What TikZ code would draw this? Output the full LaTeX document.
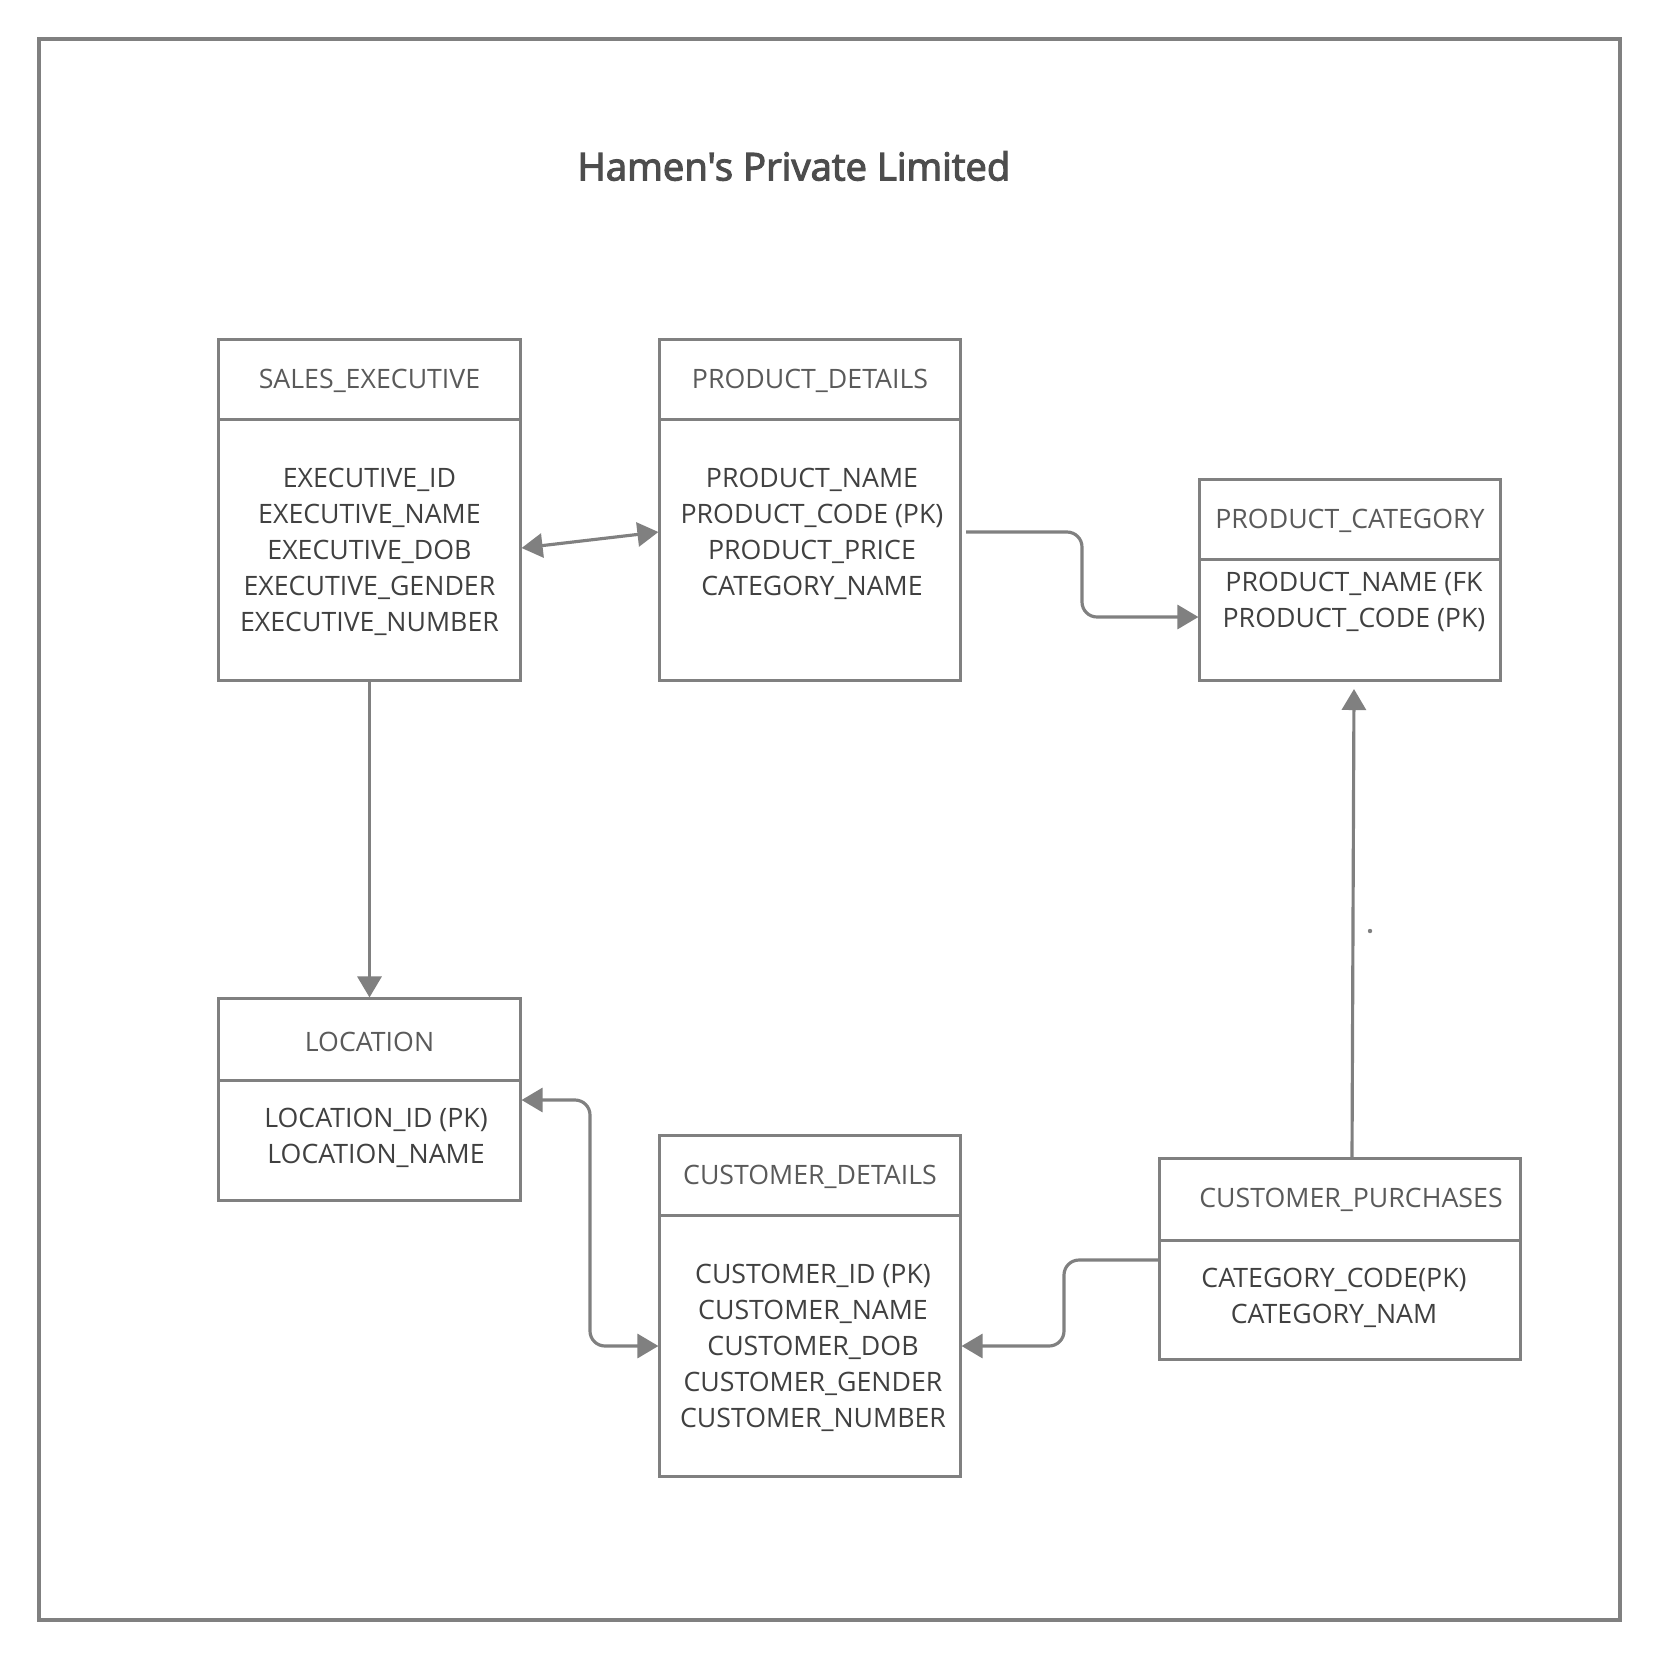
\documentclass[tikz,border=0pt]{standalone}
\usepackage{fontspec}
\setmainfont{Open Sans}
\newfontfamily\titlefont[FakeBold=3]{Open Sans}
\usetikzlibrary{arrows.meta}
\definecolor{linec}{HTML}{808080}
\definecolor{hdrc}{HTML}{5A5A5A}
\definecolor{bodyc}{HTML}{404040}
\definecolor{titlec}{HTML}{4D4D4D}
\tikzset{
  tbl/.style={draw=linec, line width=0.85pt, inner sep=0pt},
  sepline/.style={draw=linec, line width=0.85pt},
  hdr/.style={text=hdrc, font=\fontsize{7.6}{10.2}\selectfont, inner sep=0pt},
  body/.style={text=bodyc, font=\fontsize{7.6}{10.2}\selectfont, align=center, inner sep=0pt},
  conn/.style={draw=linec, line width=0.9pt, rounded corners=0.15cm},
  tip/.tip={Triangle[length=0.21cm,width=0.24cm]}
}
\begin{document}
\begin{tikzpicture}[x=0.01cm,y=-0.01cm]
\useasboundingbox (0,0) rectangle (1660,1660);
\draw[draw=linec, line width=0.9pt] (39,39) rectangle (1620,1620);
\node[text=titlec, font=\titlefont\fontsize{10.9}{13}\selectfont] (title) at (794,166) {Hamen\symbol{39}s Private Limited};

% tables
\node[tbl, minimum width=3.01cm, minimum height=3.40cm] (se) at (369.5,510) {};
\node[tbl, minimum width=3.00cm, minimum height=3.40cm] (pd) at (810,510) {};
\node[tbl, minimum width=3.00cm, minimum height=2.00cm] (pc) at (1350,580) {};
\node[tbl, minimum width=3.01cm, minimum height=2.01cm] (loc) at (369.5,1099.5) {};
\node[tbl, minimum width=3.00cm, minimum height=3.40cm] (cd) at (810,1306) {};
\node[tbl, minimum width=3.60cm, minimum height=2.00cm] (cp) at (1340,1259) {};

\draw[sepline] (se.west |- 0,419) -- (se.east |- 0,419);
\draw[sepline] (pd.west |- 0,419) -- (pd.east |- 0,419);
\draw[sepline] (pc.west |- 0,559) -- (pc.east |- 0,559);
\draw[sepline] (loc.west |- 0,1080) -- (loc.east |- 0,1080);
\draw[sepline] (cd.west |- 0,1215) -- (cd.east |- 0,1215);
\draw[sepline] (cp.west |- 0,1240) -- (cp.east |- 0,1240);

\node[hdr] (seh) at (369.5,381) {SALES\_EXECUTIVE};
\node[body] (seb) at (369.5,552) {EXECUTIVE\_ID\\EXECUTIVE\_NAME\\EXECUTIVE\_DOB\\EXECUTIVE\_GENDER\\EXECUTIVE\_NUMBER};
\node[hdr] (pdh) at (810,381) {PRODUCT\_DETAILS};
\node[body] (pdb) at (812,534) {PRODUCT\_NAME\\PRODUCT\_CODE (PK)\\PRODUCT\_PRICE\\CATEGORY\_NAME};
\node[hdr] (pch) at (1350,521) {PRODUCT\_CATEGORY};
\node[body] (pcb) at (1354,602) {PRODUCT\_NAME (FK\\PRODUCT\_CODE (PK)};
\node[hdr] (loch) at (369.5,1042) {LOCATION};
\node[body] (locb) at (376,1138) {LOCATION\_ID (PK)\\LOCATION\_NAME};
\node[hdr] (cdh) at (810,1177) {CUSTOMER\_DETAILS};
\node[body] (cdb) at (813,1348) {CUSTOMER\_ID (PK)\\CUSTOMER\_NAME\\CUSTOMER\_DOB\\CUSTOMER\_GENDER\\CUSTOMER\_NUMBER};
\node[hdr] (cph) at (1351,1199.5) {CUSTOMER\_PURCHASES};
\node[body] (cpb) at (1334,1298) {CATEGORY\_CODE(PK)\\CATEGORY\_NAM};

% connectors
\coordinate (pdout) at (966,532);
\coordinate (pcin) at (1354,689);
\draw[conn, tip-tip] (se.east |- 0,548) -- (pd.west |- 0,532);
\draw[conn, -tip] (pdout) -- (1082,532) -- (1082,617) -- (pc.west |- 0,617);
\draw[conn, -tip] (se.south) -- (loc.north);
\draw[conn, tip-tip] (loc.east |- 0,1100) -- (590,1100) -- (590,1346) -- (cd.west |- 0,1346);
\draw[conn, -tip] (cp.west |- 0,1260) -- (1064,1260) -- (1064,1346) -- (cd.east |- 0,1346);
\draw[conn, -tip] (cp.north -| 1352,0) -- (pcin);
\fill[linec] (1370,931) circle (0.022cm);
\end{tikzpicture}
\end{document}
